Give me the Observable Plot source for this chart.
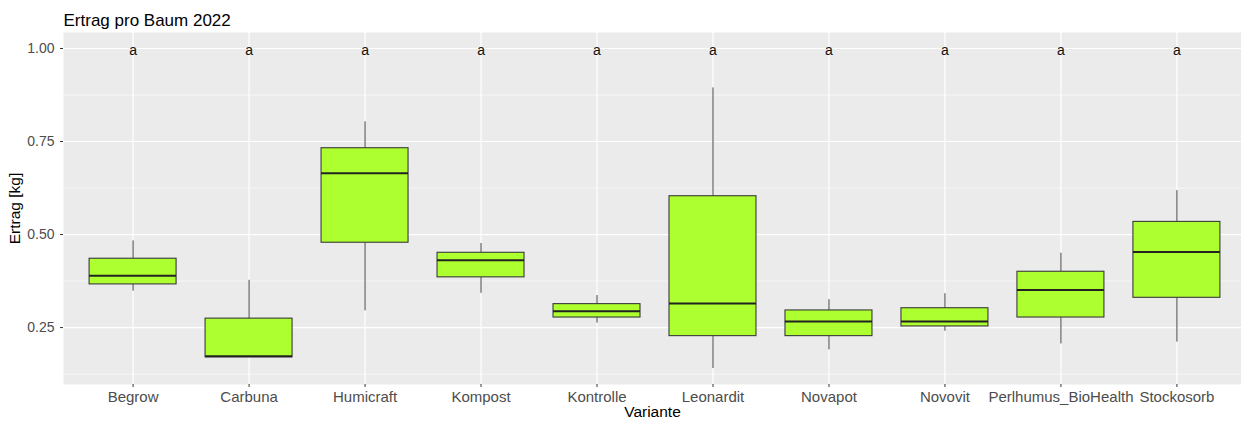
<!DOCTYPE html>
<html>
<head>
<meta charset="utf-8">
<script src="https://cdn.jsdelivr.net/npm/d3@7"></script>
<script src="https://cdn.jsdelivr.net/npm/@observablehq/plot@0.6"></script>
<style>
  html, body { margin: 0; padding: 0; background: #fff; }
  svg { font-family: "Liberation Sans", Arial, sans-serif; }
</style>
</head>
<body>
<div id="chart"></div>
<script>
const variants = ["Begrow", "Carbuna", "Humicraft", "Kompost", "Kontrolle", "Leonardit", "Novapot", "Novovit", "Perlhumus_BioHealth", "Stockosorb"];
const whiskerLow = [0.348, 0.170, 0.295, 0.342, 0.262, 0.140, 0.190, 0.240, 0.206, 0.211];
const q1 = [0.366, 0.170, 0.478, 0.385, 0.277, 0.227, 0.227, 0.253, 0.277, 0.330];
const median = [0.389, 0.173, 0.665, 0.431, 0.294, 0.315, 0.266, 0.266, 0.351, 0.453];
const q3 = [0.435, 0.274, 0.732, 0.451, 0.313, 0.603, 0.296, 0.302, 0.400, 0.534];
const whiskerHigh = [0.483, 0.377, 0.803, 0.476, 0.336, 0.894, 0.325, 0.341, 0.450, 0.618];
const letters = ["a", "a", "a", "a", "a", "a", "a", "a", "a", "a"];
const letterY = 1.0;
const majorTicks = [0.25, 0.50, 0.75, 1.00];
const minorTicks = [0.125, 0.375, 0.625, 0.875];

const rows = variants.map((v, i) => ({
  variant: v, lo: whiskerLow[i], q1: q1[i], med: median[i], q3: q3[i], hi: whiskerHigh[i], letter: letters[i]
}));

const chart = Plot.plot({
  width: 1241,
  height: 423,
  marginLeft: 63,
  marginRight: 0,
  marginTop: 32,
  marginBottom: 39,
  style: {fontFamily: '"Liberation Sans", Arial, sans-serif', background: "#fff"},
  x: {domain: variants, range: [63, 1246], paddingInner: 0.25, paddingOuter: 0.225, align: 0.5, round: false},
  y: {domain: [0.097, 1.043]},
  marks: [
    Plot.frame({fill: "#EBEBEB", stroke: "none"}),
    Plot.gridY(minorTicks, {stroke: "#fff", strokeOpacity: 1, strokeWidth: 0.6}),
    Plot.gridY(majorTicks, {stroke: "#fff", strokeOpacity: 1, strokeWidth: 1.2}),
    Plot.ruleX(variants, {x: d => d, stroke: "#fff", strokeWidth: 1.2}),
    Plot.axisY(majorTicks, {tickFormat: d3.format(".2f"), tickSize: 3, tickPadding: 6, stroke: "#333", fill: "#4D4D4D", fontSize: 14, label: null}),
    Plot.axisX({tickSize: 3, tickPadding: 4, stroke: "#333", fill: "#4D4D4D", fontSize: 15, label: null}),
    Plot.ruleX(rows, {x: "variant", y1: "q3", y2: "hi", stroke: "#444", strokeWidth: 1}),
    Plot.ruleX(rows, {x: "variant", y1: "lo", y2: "q1", stroke: "#444", strokeWidth: 1}),
    Plot.barY(rows, {x: "variant", y1: "q1", y2: "q3", fill: "#ADFF2F", stroke: "#3a3a3a", strokeWidth: 1.1}),
    Plot.tickY(rows, {x: "variant", y: "med", stroke: "#222", strokeWidth: 2}),
    Plot.text(rows, {x: "variant", y: () => letterY, text: "letter", fontSize: 14, fill: "#111", dy: 2}),
    Plot.text(["Ertrag pro Baum 2022"], {frameAnchor: "top-left", text: d => d, dy: -19, textAnchor: "start", fontSize: 17, fill: "#000"}),
    Plot.text(["Ertrag [kg]"], {frameAnchor: "left", text: d => d, dx: -48, rotate: -90, textAnchor: "middle", fontSize: 15.5, fill: "#000"}),
    Plot.text(["Variante"], {frameAnchor: "bottom", text: d => d, dy: 32, fontSize: 15.5, fill: "#000"})
  ]
});
document.getElementById("chart").appendChild(chart);
</script>
</body>
</html>
